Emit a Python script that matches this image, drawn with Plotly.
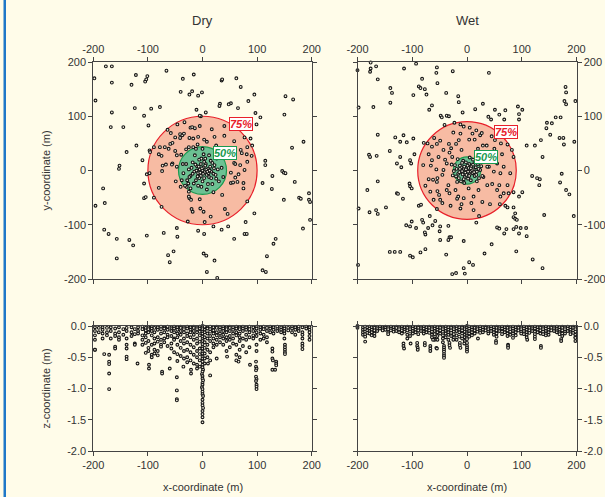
import plotly.graph_objects as go

# ---------------- data ----------------
panel_titles = ["Dry", "Wet"]
xy_ticks = [-200, -100, 0, 100, 200]
xy_tick_text = ["-200", "-100", "0", "100", "200"]
z_ticks = [0.0, -0.5, -1.0, -1.5, -2.0]
z_tick_text = ["0.0", "-0.5", "-1.0", "-1.5", "-2.0"]

# radii of the 75% and 50% circles (m)
dry_r75, dry_r50 = 100, 44
wet_r75, wet_r50 = 90, 25

# Dry: plan view (x, y)
dry_xy = [
    (-177,192),(-166,192),(-198,170),(-166,162),(-196,129),(-130,158),(-122,176),(-105,164),(-101,174),(-103,168),
    (-66,184),(-36,169),(-16,177),(35,166),(36,168),(62,170),(70,154),(-40,145),(-24,140),(-19,146),(-8,138),(-1,144),
    (95,140),(84,128),(32,123),(31,119),(52,124),(48,122),(65,115),(152,137),(166,131),(150,103),(6,107),(-11,112),
    (-3,100),(-5,101),(-124,115),(-94,114),(-78,117),(-107,101),(-166,107),(-168,80),(-145,80),(97,106),(106,98),
    (99,85),(-99,83),
    (164,42),(185,53),(115,18),(115,10),(128,-10),(146,-1),(149,-4),(152,-5),(169,-21),(149,-54),(177,-50),(180,-52),
    (195,-42),(195,-54),(197,-58),(197,-91),(184,-107),(127,-34),(110,-23),(95,-79),(79,-95),(77,-117),(81,-117),
    (130,-135),(134,-126),(118,-158),(110,-184),(116,-187),
    (-139,34),(-121,46),(-152,9),(-153,3),(-182,-33),(-179,-60),(-196,-65),(-180,-109),(-172,-117),(-157,-126),
    (-157,-162),(-134,-128),(-127,-138),(-102,-120),(-107,-24),(-107,-51),(-104,-49),(-110,19),
    (-71,-115),(-47,-106),(-46,-122),(-53,-149),(-63,-156),(-60,-169),(-8,-111),(3,-117),(2,-153),(7,-157),(22,-166),
    (8,-187),(27,-198),(35,-109),(47,-103),(58,-126),
    (-46,85),(-33,89),(-22,79),(-19,80),(-14,78),(-5,82),(17,76),(40,82),(-41,67),(-37,65),(-34,68),(-58,69),(-64,75),
    (-50,61),(-59,49),(-55,51),(-41,60),(-24,60),(-17,59),(-8,62),(3,57),(22,62),(40,64),(58,54),(77,61),(88,59),
    (91,46),(82,43),(72,32),(81,30),(90,27),(70,38),(-89,43),(-97,37),(-96,34),(-78,43),(-80,30),(-75,27),(-69,43),
    (-62,40),(-50,36),(-47,28),(-39,29),(-30,39),(-25,43),(-17,43),(-9,48),(8,53),(25,46),(-73,9),(-74,-1),(-67,11),
    (-55,13),(-102,-7),(-97,-5),(-80,-32),(-75,-67),(-89,-50),(-38,-18),(-47,7),(-56,11),(-49,-20),(-29,-30),(-25,-39),
    (-24,-51),(-21,-54),(-25,-48),(-20,-71),(-18,-76),(-27,-94),(-5,-53),(-4,-70),(2,-76),(4,-95),(15,-85),(20,-103),
    (36,-45),(41,-71),(46,-80),(52,-4),(60,-13),(64,-21),(75,-23),(66,-7),(77,1),(82,16),(58,14),(60,12),(69,10),
    (52,-23),(75,-33),(82,-57),(56,-22),
    (-20,5),(-15,-2),(-10,8),(-8,-5),(-5,2),(-3,-10),(0,0),(2,6),(4,-3),(6,12),(8,-8),(10,3),(12,-12),(14,7),(16,-2),
    (18,14),(20,-6),(-22,-10),(-18,15),(-12,-18),(-6,20),(0,-20),(5,22),(10,-25),(15,18),(22,10),(25,-15),(28,2),
    (-25,2),(-28,-18),(-30,12),(-14,28),(2,30),(12,28),(-2,-30),(-8,-28),(18,-25),(30,-20),(35,5),(-35,-5),(-32,-28),
    (-22,-33),(8,-35),(26,22),(-3,12),(3,-14),(-11,0),(11,-5),(7,1),(-6,-14),(24,-8),(-16,-24),(-36,12),(38,-12),
    (30,25),(-26,-24),(20,-40),(-40,-30),(0,40),(-12,40),(-1,4),(1,-6),(-7,7),(9,-2),(-4,-4),(5,9),(-9,-11),(13,0),
    (-13,11),(3,16),(-18,-6),(16,-14),(-2,22),(21,4),(-24,-12),
]

# Wet: plan view (x, y)
wet_xy = [
    (-200,185),(-176,199),(-176,188),(-177,182),(-166,192),(-163,168),(-115,188),(-93,197),(-55,190),(-56,180),
    (-54,161),(-26,183),(40,180),(-140,152),(-137,143),(-140,125),(-171,117),(-198,116),(-88,155),(-85,152),(-77,150),
    (-82,169),(-74,140),(-98,139),(-38,143),(-16,137),(-15,126),(15,113),(29,123),(51,112),(59,103),(70,111),(-69,112),
    (-64,120),(-48,101),(-46,98),(-37,101),(-33,100),(-8,107),(39,99),(44,94),(68,94),(93,118),(101,112),(95,104),
    (95,94),(180,154),(181,144),(178,128),(181,122),(198,128),(162,98),(171,98),(146,88),(145,78),(155,87),(152,66),
    (169,60),(176,60),(177,48),(196,53),(135,56),(138,25),(109,46),(124,46),(-163,66),(-165,27),(-179,29),(-177,25),
    (-141,36),(-131,61),(-122,53),(-116,65),(-110,52),(-122,25),(-128,13),(-120,6),(-104,19),(-102,13),(-98,59),
    (-96,30),(-72,50),(-163,-20),(-182,-36),(-198,-70),(-178,-77),(-166,-73),(-163,-80),(-148,-68),(-128,-42),
    (-126,-43),(-117,-52),(-105,-24),(-104,-29),(-101,-33),(-88,-65),(-84,-63),(-111,-101),(-104,-103),(-101,-94),
    (-93,-106),(-82,-91),(-80,-96),(-71,-106),(-68,-84),(-58,-93),(-55,-71),(-49,-54),(-76,-118),(-77,-114),(-63,-101),
    (-49,-103),(-50,-112),(-49,-128),(-34,-102),(-32,-123),(-29,-123),(-34,-128),(-141,-150),(-132,-150),(-122,-150),
    (-104,-157),(-99,-160),(-85,-151),(-76,-145),(-38,-155),(-6,-130),(-27,-191),(-20,-189),(-6,-180),(-4,-190),
    (4,-169),(11,-174),(32,-153),(45,-136),(-199,-174),(55,-105),(59,-107),(68,-116),(72,-108),(85,-108),(95,-116),
    (90,-104),(98,-106),(108,-106),(109,-121),(85,-86),(88,-89),(91,-91),(88,-79),(70,-65),(74,-68),(85,-68),(90,-149),
    (120,-164),(138,-180),(141,-82),(195,-84),(76,-42),(85,-40),(95,-48),(101,-40),(119,-10),(128,-14),(132,-27),
    (133,-16),(170,-22),(173,-6),(181,-36),(187,-44),(17,-96),(-12,-70),(-18,-52),(12,-73),(22,-84),
    (-79,51),(-64,44),(-55,49),(-49,55),(-33,49),(-20,49),(-15,56),(-6,81),(-12,68),(4,57),(14,57),(24,65),(29,46),
    (36,46),(45,63),(51,56),(62,50),(70,63),(74,48),(82,38),(85,25),(-41,84),(-23,88),(-12,85),(5,79),(17,74),(27,69),
    (55,77),(73,74),(-70,30),(-64,19),(-66,9),(-56,2),(-54,-14),(-43,1),(-37,13),(-52,25),(-43,38),(-32,33),(-29,41),
    (-27,25),(-70,-16),(-62,-17),(-55,-21),(-67,-39),(-54,-38),(-51,-45),(-61,-54),(-37,-36),(-34,-27),(-32,-42),
    (-21,-36),(-18,-21),(-16,-48),(-6,-51),(3,-33),(12,-48),(21,-36),(37,-27),(46,-25),(55,-36),(61,-48),(67,-42),
    (59,-27),(74,-27),(79,-5),(61,-5),(49,-2),(40,7),(67,7),(55,13),(46,19),(32,25),(37,7),
    (-80,10),(-76,-28),(-45,-60),(-30,-65),(-10,-62),(8,-60),(28,-58),(42,-62),(60,-62),(-60,60),(-25,70),(10,68),
    (50,40),(64,30),(-45,-8),(30,-12),(20,40),(-10,38),(-40,20),
    (0,0),(3,5),(-3,-4),(6,-2),(-6,3),(8,8),(-8,-7),(10,-5),(-10,6),(12,2),(-12,-2),(4,12),(-4,-12),(14,-10),(-13,9),
    (2,-15),(-2,15),(16,6),(-16,-6),(18,-2),(-19,3),(7,-18),(-7,18),(20,12),(-20,-11),(22,-14),(-22,10),(11,20),
    (-11,-20),(24,1),(-24,-1),(5,24),(-5,-23),(15,15),(-15,-14),(26,8),(-26,-9),(1,9),(-1,-8),(9,1),(-9,-1),(13,-3),
    (-13,3),(5,-7),(-5,7),(28,-10),(-28,11),(18,-20),(-17,21),(30,18),(7,4),(-2,2),(2,-2),(11,11),(-9,14),(17,-8),
    (-14,-3),(4,-10),(-6,-16),(21,3),
]

# Dry: section view, columns of depths (x, [z...])
dry_xz_cols = [
    (-197,[-0.02,-0.08,-0.15,-0.22,-0.38]),(-190,[-0.03,-0.10]),(-183,[-0.02,-0.06,-0.12,-0.20]),
    (-175,[-0.03,-0.10,-0.15]),(-168,[-0.02,-0.08,-0.20]),(-160,[-0.04,-0.12,-0.16]),
    (-153,[-0.02,-0.10,-0.18,-0.22]),(-145,[-0.05,-0.14]),(-139,[-0.03,-0.08,-0.20]),(-130,[-0.02,-0.10,-0.16]),
    (-124,[-0.05,-0.13,-0.28,-0.30]),(-118,[-0.02,-0.08,-0.12]),(-110,[-0.01,-0.05,-0.15,-0.22,-0.30]),
    (-104,[-0.03,-0.07,-0.12,-0.18,-0.27,-0.43]),(-99,[-0.02,-0.05,-0.10,-0.24,-0.35,-0.40]),
    (-93,[-0.01,-0.04,-0.08,-0.15,-0.30,-0.46,-0.50]),(-88,[-0.03,-0.10,-0.20,-0.28,-0.38,-0.44]),
    (-82,[-0.02,-0.06,-0.18,-0.25,-0.40,-0.47]),(-76,[-0.01,-0.05,-0.12,-0.22,-0.30,-0.33]),
    (-70,[-0.02,-0.04,-0.10,-0.20,-0.26]),(-64,[-0.01,-0.06,-0.14,-0.18,-0.32]),
    (-57,[-0.02,-0.05,-0.08,-0.16,-0.28,-0.36]),(-52,[-0.01,-0.04,-0.10,-0.20,-0.22,-0.42]),
    (-46,[-0.02,-0.06,-0.12,-0.18,-0.30,-0.45,-0.56]),(-40,[-0.01,-0.03,-0.08,-0.14,-0.24,-0.35,-0.48]),
    (-34,[-0.02,-0.05,-0.10,-0.20,-0.28,-0.40,-0.52]),(-28,[-0.01,-0.04,-0.12,-0.16,-0.26,-0.38,-0.50,-0.58]),
    (-22,[-0.02,-0.06,-0.10,-0.18,-0.30,-0.42,-0.55]),(-16,[-0.01,-0.03,-0.08,-0.14,-0.22,-0.34,-0.46,-0.60]),
    (-10,[-0.02,-0.05,-0.10,-0.20,-0.28,-0.40,-0.50,-0.62]),(-5,[-0.01,-0.04,-0.09,-0.15,-0.25,-0.36,-0.45,-0.55,-0.65]),
    (0,[0.0,-0.02,-0.05,-0.09,-0.12,-0.17,-0.21,-0.24,-0.29,-0.33,-0.36,-0.41,-0.44,-0.49,-0.52,-0.57]),
    (4,[-0.01,-0.06,-0.10,-0.18,-0.26,-0.35,-0.44,-0.52,-0.60]),(9,[-0.02,-0.04,-0.12,-0.20,-0.30,-0.38,-0.50]),
    (14,[-0.01,-0.05,-0.09,-0.16,-0.24,-0.42,-0.55]),(20,[-0.02,-0.07,-0.12,-0.20,-0.28,-0.34]),
    (26,[-0.01,-0.03,-0.10,-0.15,-0.22,-0.30]),(32,[-0.02,-0.06,-0.12,-0.18,-0.26]),
    (38,[-0.01,-0.04,-0.08,-0.14,-0.20,-0.30]),(44,[-0.02,-0.05,-0.10,-0.18,-0.24,-0.40]),
    (50,[-0.01,-0.03,-0.08,-0.16,-0.22,-0.34]),(56,[-0.02,-0.06,-0.12,-0.20,-0.28]),
    (62,[-0.01,-0.04,-0.10,-0.15,-0.30,-0.46,-0.55]),(68,[-0.02,-0.05,-0.12,-0.18,-0.24,-0.38,-0.50]),
    (74,[-0.01,-0.04,-0.08,-0.20,-0.32]),(80,[-0.02,-0.06,-0.14,-0.22,-0.42]),(86,[-0.01,-0.05,-0.10,-0.18,-0.34]),
    (93,[-0.02,-0.08,-0.15,-0.20]),(99,[-0.01,-0.04,-0.10,-0.16,-0.30,-0.40]),(106,[-0.02,-0.06,-0.12,-0.22]),
    (112,[-0.01,-0.05,-0.14,-0.20]),(118,[-0.03,-0.08,-0.18,-0.26]),(124,[-0.01,-0.04,-0.10]),
    (130,[-0.02,-0.06,-0.12]),(137,[-0.01,-0.05,-0.08]),(144,[-0.02,-0.06,-0.10]),
    (150,[-0.01,-0.04,-0.08,-0.12,-0.20]),(157,[-0.03,-0.07]),(164,[-0.01,-0.04,-0.10]),(170,[-0.02,-0.06,-0.14]),
    (176,[-0.01,-0.05,-0.08]),(183,[-0.02,-0.10,-0.14,-0.20]),(190,[-0.01,-0.04]),(196,[-0.02,-0.06,-0.10,-0.16,-0.22]),
]
dry_xz_deep = [
    (0,-0.62),(0,-0.66),(1,-0.70),(0,-0.73),(-1,-0.77),(0,-0.80),(0,-0.84),(1,-0.87),(0,-0.91),(0,-0.94),(-1,-0.98),
    (0,-1.01),(0,-1.05),(0,-1.09),(1,-1.12),(0,-1.18),(0,-1.23),(0,-1.27),(1,-1.31),(0,-1.36),(0,-1.41),(0,-1.46),
    (0,-1.54),(-171,-0.46),(-171,-0.57),(-171,-0.61),(-171,-0.76),(-171,-1.01),(-47,-0.82),(-47,-1.03),(-47,-1.17),
    (-47,-1.19),(98,-0.57),(98,-0.65),(99,-0.68),(98,-0.71),(98,-0.81),(99,-0.85),(98,-0.88),(99,-0.94),(99,-0.97),
    (99,-1.01),(128,-0.36),(128,-0.41),(128,-0.52),(129,-0.55),(128,-0.70),(135,-0.57),(135,-0.60),(135,-0.63),
    (133,-0.70),(151,-0.30),(151,-0.34),(151,-0.38),(151,-0.42),(151,-0.45),(183,-0.28),(183,-0.32),(183,-0.37),
    (-139,-0.30),(-139,-0.36),(-139,-0.49),(-139,-0.53),(-160,-0.33),(-160,-0.36),(-119,-0.60),(-98,-0.62),
    (-98,-0.68),(-74,-0.73),(-74,-0.76),(-60,-0.52),(-60,-0.68),(-35,-0.65),(-21,-0.70),(-21,-0.76),(-10,-0.68),
    (14,-0.79),(-197,-0.38),(-180,-0.45),(87,-0.62),(66,-0.57),(45,-0.49),(26,-0.52),(10,-0.60),
]

# Wet: section view
wet_xz_cols = [
    (-200,[0.0,-0.03]),(-190,[-0.02,-0.06,-0.10,-0.14]),(-186,[-0.01,-0.05,-0.09,-0.13,-0.17]),
    (-182,[-0.02,-0.07,-0.11]),(-178,[-0.01,-0.04,-0.08,-0.12]),(-174,[-0.02,-0.06,-0.10,-0.15]),
    (-169,[-0.01,-0.03,-0.07,-0.12,-0.16]),(-164,[-0.02,-0.05,-0.08]),(-159,[-0.01,-0.04]),
    (-154,[-0.02,-0.05,-0.07]),(-149,[-0.01,-0.03,-0.06]),(-144,[-0.02,-0.05,-0.10,-0.13]),
    (-139,[-0.01,-0.04,-0.07]),(-134,[-0.02,-0.06,-0.09]),(-129,[-0.01,-0.03,-0.08]),(-124,[-0.02,-0.05,-0.10]),
    (-119,[-0.01,-0.04,-0.07,-0.12]),(-114,[-0.02,-0.06,-0.09]),(-109,[-0.01,-0.03,-0.07,-0.14,-0.20]),
    (-104,[-0.02,-0.05,-0.09,-0.16]),(-99,[-0.01,-0.04,-0.08,-0.12]),(-94,[-0.02,-0.06,-0.10]),
    (-89,[-0.01,-0.03,-0.07,-0.13]),(-84,[-0.02,-0.05,-0.08]),(-79,[-0.01,-0.04,-0.09,-0.12]),
    (-74,[-0.02,-0.06,-0.10]),(-69,[-0.01,-0.03,-0.07,-0.11]),(-64,[-0.02,-0.05,-0.09,-0.14,-0.18]),
    (-59,[-0.01,-0.04,-0.08,-0.13,-0.20,-0.22]),(-54,[-0.02,-0.06,-0.10,-0.16,-0.22]),
    (-49,[-0.01,-0.03,-0.07,-0.12]),(-44,[-0.02,-0.05,-0.09,-0.15,-0.20,-0.26]),
    (-39,[-0.01,-0.04,-0.08,-0.12,-0.18]),(-34,[-0.02,-0.06,-0.10,-0.14,-0.22]),
    (-29,[-0.01,-0.03,-0.07,-0.11,-0.16]),(-24,[-0.02,-0.05,-0.09,-0.13,-0.19]),
    (-19,[-0.01,-0.04,-0.08,-0.15,-0.22]),(-14,[-0.02,-0.06,-0.10,-0.17]),(-9,[-0.01,-0.03,-0.07,-0.12,-0.20]),
    (-4,[-0.02,-0.05,-0.09,-0.14,-0.18,-0.24]),(0,[0.0,-0.03,-0.06,-0.10,-0.13,-0.16,-0.19]),
    (4,[-0.01,-0.04,-0.08,-0.12,-0.17]),(9,[-0.02,-0.06,-0.10,-0.15]),(14,[-0.01,-0.03,-0.07,-0.12]),
    (19,[-0.02,-0.05,-0.09]),(24,[-0.01,-0.04,-0.08,-0.11]),(29,[-0.02,-0.06,-0.10]),(34,[-0.01,-0.03,-0.07]),
    (39,[-0.02,-0.05,-0.09,-0.12]),(44,[-0.01,-0.04,-0.08]),(49,[-0.02,-0.06,-0.10,-0.14]),
    (54,[-0.01,-0.03,-0.07,-0.12,-0.17]),(59,[-0.02,-0.05,-0.08]),(64,[-0.01,-0.04,-0.09,-0.13]),
    (69,[-0.02,-0.06,-0.10]),(74,[-0.01,-0.03,-0.07,-0.12,-0.16]),(79,[-0.02,-0.05,-0.09,-0.14]),
    (84,[-0.01,-0.04,-0.08,-0.12,-0.19]),(89,[-0.02,-0.06,-0.10,-0.15]),(94,[-0.01,-0.03,-0.07]),
    (99,[-0.02,-0.05,-0.09,-0.12]),(104,[-0.01,-0.04,-0.08,-0.13]),(109,[-0.02,-0.06,-0.10,-0.14,-0.18]),
    (114,[-0.01,-0.03,-0.07,-0.11]),(119,[-0.02,-0.05,-0.08]),(124,[-0.01,-0.04,-0.09,-0.13,-0.17]),
    (129,[-0.02,-0.06,-0.10]),(134,[-0.01,-0.03,-0.07,-0.12]),(139,[-0.02,-0.05,-0.09,-0.13]),
    (144,[-0.01,-0.04,-0.08,-0.12,-0.15]),(149,[-0.02,-0.06,-0.10,-0.14]),(154,[-0.01,-0.03,-0.07]),
    (159,[-0.02,-0.05,-0.08]),(164,[-0.01,-0.04,-0.07,-0.10]),(169,[-0.02,-0.06,-0.10,-0.13]),
    (174,[-0.01,-0.03,-0.07,-0.12,-0.16]),(179,[-0.02,-0.05,-0.09,-0.12]),(184,[-0.01,-0.04,-0.08]),
    (189,[-0.02,-0.06,-0.10,-0.13]),(194,[-0.01,-0.03,-0.07,-0.11]),(198,[-0.02,-0.05,-0.09,-0.14,-0.18]),
]
wet_xz_deep = [
    (-186,-0.25),(-116,-0.28),(-116,-0.32),(-115,-0.36),(-103,-0.28),(-91,-0.27),(-91,-0.32),(-90,-0.35),(-90,-0.38),
    (-77,-0.27),(-77,-0.31),(-67,-0.32),(-67,-0.36),(-67,-0.40),(-56,-0.35),(-55,-0.36),(-42,-0.32),(-42,-0.35),
    (-42,-0.38),(-42,-0.41),(-42,-0.45),(-42,-0.48),(-42,-0.51),(-32,-0.27),(-32,-0.31),(-31,-0.35),(-13,-0.27),
    (-13,-0.31),(-12,-0.35),(0,-0.21),(0,-0.27),(0,-0.32),(0,-0.35),(0,-0.38),(0,-0.41),(53,-0.24),(53,-0.27),
    (75,-0.30),(75,-0.32),(75,-0.35),(110,-0.22),(124,-0.21),(135,-0.32),(135,-0.35),(172,-0.21),(172,-0.24),
    (198,-0.19),(198,-0.24),(-62,-0.22),(-25,-0.22),(20,-0.20),(-5,-0.28),
]

# ---------------- styling ----------------
BG = "#fffce9"
FONT = "Liberation Sans, Arial, sans-serif"
AX = "#444444"
TXT = "#333333"
RED_FILL = "#f7bba3"
RED_LINE = "#e8202a"
GRN_FILL = "#6cc193"
GRN_LINE = "#1a9a50"

W, H = 605, 497
def px_x(p): return p / W
def px_y(p): return 1 - p / H

dom_left = [px_x(93.3), px_x(311.7)]
dom_right = [px_x(357.5), px_x(576.5)]
dom_top = [px_y(279), px_y(62)]
dom_bot = [px_y(451), px_y(326)]

marker = dict(symbol="circle", size=2.8, color="#f4f0e0", line=dict(color="#151515", width=1.1))

def split(pairs):
    return [p[0] for p in pairs], [p[1] for p in pairs]

def flatten(cols, deep):
    xs, zs = [], []
    for x, zl in cols:
        for z in zl:
            xs.append(x); zs.append(z)
    for x, z in deep:
        xs.append(x); zs.append(z)
    return xs, zs

fig = go.Figure()
for pairs, xa, ya in [(dry_xy, "x", "y"), (wet_xy, "x2", "y2")]:
    xs, ys = split(pairs)
    fig.add_trace(go.Scatter(x=xs, y=ys, mode="markers", marker=marker, xaxis=xa, yaxis=ya,
                             cliponaxis=False, showlegend=False, hoverinfo="skip"))
for cols, deep, xa, ya in [(dry_xz_cols, dry_xz_deep, "x3", "y3"), (wet_xz_cols, wet_xz_deep, "x4", "y4")]:
    xs, zs = flatten(cols, deep)
    fig.add_trace(go.Scatter(x=xs, y=zs, mode="markers", marker=marker, xaxis=xa, yaxis=ya,
                             cliponaxis=False, showlegend=False, hoverinfo="skip"))

tickfont = dict(family=FONT, size=11, color=TXT)
def axis(**kw):
    d = dict(showline=True, linecolor=AX, linewidth=1, ticks="outside", ticklen=4, tickcolor=AX,
             tickwidth=1, showgrid=False, zeroline=False, tickfont=tickfont, mirror="ticks",
             fixedrange=True, automargin=False)
    d.update(kw)
    return d

xy_common = dict(range=[-200, 200], tickvals=xy_ticks, ticktext=xy_tick_text)
z_common = dict(range=[-2.0, 0.0], tickvals=z_ticks, ticktext=z_tick_text)

fig.update_layout(
    template="none",
    width=W, height=H, paper_bgcolor=BG, plot_bgcolor=BG,
    font=dict(family=FONT, size=11, color=TXT),
    margin=dict(l=0, r=0, t=0, b=0, pad=0, autoexpand=False),
    xaxis=axis(domain=dom_left, anchor="y", side="top", **xy_common),
    yaxis=axis(domain=dom_top, anchor="x", **xy_common),
    xaxis2=axis(domain=dom_right, anchor="y2", side="top", **xy_common),
    yaxis2=axis(domain=dom_top, anchor="x2", side="right", **xy_common),
    xaxis3=axis(domain=dom_left, anchor="y3", **xy_common),
    yaxis3=axis(domain=dom_bot, anchor="x3", **z_common),
    xaxis4=axis(domain=dom_right, anchor="y4", **xy_common),
    yaxis4=axis(domain=dom_bot, anchor="x4", side="right", **z_common),
)

shapes = []
for xr, yr, r75, r50 in [("x", "y", dry_r75, dry_r50), ("x2", "y2", wet_r75, wet_r50)]:
    shapes.append(dict(type="circle", xref=xr, yref=yr, x0=-r75, y0=-r75, x1=r75, y1=r75,
                       fillcolor=RED_FILL, line=dict(color=RED_LINE, width=1.2), layer="below"))
    shapes.append(dict(type="circle", xref=xr, yref=yr, x0=-r50, y0=-r50, x1=r50, y1=r50,
                       fillcolor=GRN_FILL, line=dict(color=GRN_LINE, width=1.2), layer="below"))
# blue frame line at the left edge
shapes.append(dict(type="rect", xref="paper", yref="paper", x0=px_x(3.5), x1=px_x(6), y0=0, y1=1,
                   fillcolor="#1f78c8", line=dict(width=0)))
fig.update_layout(shapes=shapes)

ann = []
def lab(text, x, y, xr, yr, col):
    return dict(text=f"<b><i>{text}</i></b>", x=x, y=y, xref=xr, yref=yr, showarrow=False,
                xanchor="center", yanchor="middle",
                font=dict(family=FONT, size=11, color=col), bgcolor="white",
                bordercolor=col, borderwidth=1, borderpad=0)
ann.append(lab("75%", 71, 86, "x", "y", RED_LINE))
ann.append(lab("50%", 41, 32, "x", "y", GRN_LINE))
ann.append(lab("75%", 72, 71, "x2", "y2", RED_LINE))
ann.append(lab("50%", 34, 24, "x2", "y2", GRN_LINE))

title_font = dict(family=FONT, size=13, color=TXT)
lbl_font = dict(family=FONT, size=11, color=TXT)
def txt(text, xp, yp, font, angle=0):
    return dict(text=text, x=px_x(xp), y=px_y(yp), xref="paper", yref="paper", showarrow=False,
                xanchor="center", yanchor="middle", textangle=angle, font=font)
ann.append(txt(panel_titles[0], 202.5, 20, title_font))
ann.append(txt(panel_titles[1], 467, 20, title_font))
ann.append(txt("y-coordinate (m)", 45, 170.5, lbl_font, -90))
ann.append(txt("z-coordinate (m)", 45, 388.5, lbl_font, -90))
ann.append(txt("x-coordinate (m)", 202.5, 487, lbl_font))
ann.append(txt("x-coordinate (m)", 467, 487, lbl_font))
fig.update_layout(annotations=ann)

post = ("document.documentElement.style.margin='0';document.body.style.margin='0';"
        "document.body.style.padding='0';document.documentElement.style.overflow='hidden';"
        "document.body.style.overflow='hidden';document.body.style.background='" + BG + "';")
fig.write_html("out.html", post_script=post, config={"displayModeBar": False})
